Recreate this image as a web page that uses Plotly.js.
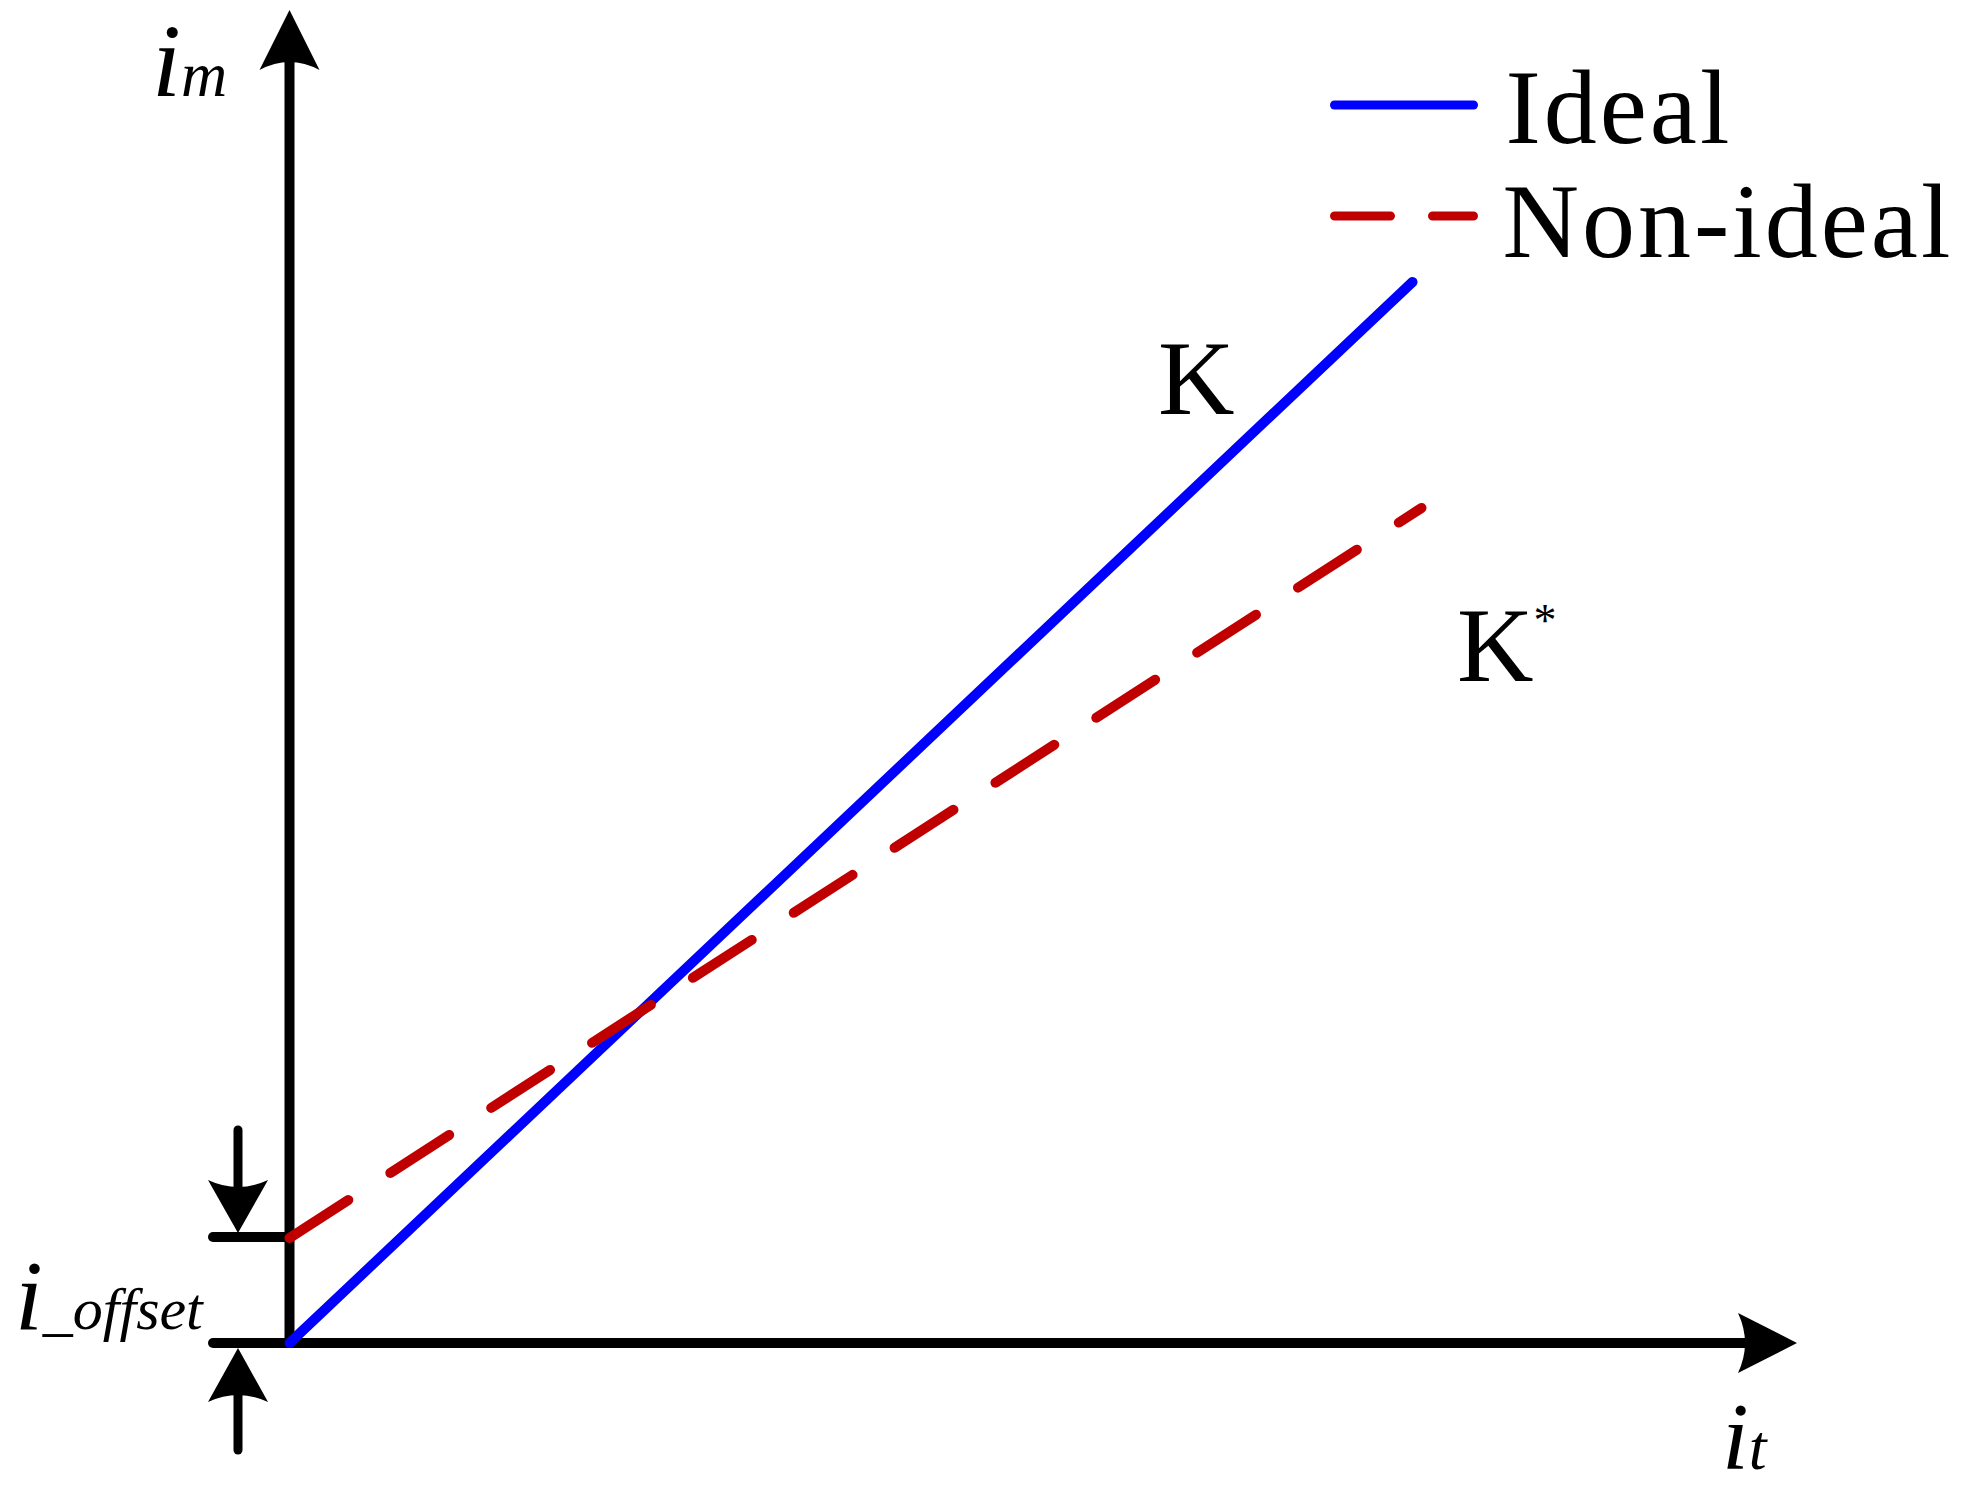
<!DOCTYPE html>
<html>
<head>
<meta charset="utf-8">
<script src="https://cdn.plot.ly/plotly-3.0.1.min.js"></script>
<style>
  body { margin: 0; background: #fff; }
  .shapelayer path, .scatterlayer .js-line { stroke-linecap: round !important; }
  .annotation[data-index="0"] text, .annotation[data-index="1"] text { letter-spacing: 3px; }
</style>
</head>
<body>
<div id="plotArea" style="width:1971px;height:1493px;"></div>
<script>
// measured line data (i_t on x, i_m on y)
var itIdeal = [0, 10.0];
var imIdeal = [0, 10.0];
var itNonIdeal = [0, 10.08];
var imNonIdeal = [0.99, 7.87];

var seriesNames = ["Ideal", "Non-ideal"];
var slopeLabels = ["K", "K<sup><span style='font-size:46px'>*</span></sup>"];

// pixel -> data helpers (origin of the drawing at 289.5, 1343)
var W = 1971, H = 1493, X0 = 289.5, Y0 = 1343, UX = 112.3, UY = 106.1;
function xv(p) { return (p - X0) / UX; }
function yv(p) { return (Y0 - p) / UY; }

var FONT = "Liberation Serif";
var blue = "#0000ff", red = "#c00000";

var traces = [
    {x: itIdeal, y: imIdeal, type: "scatter", mode: "lines", name: seriesNames[0],
     line: {color: blue, width: 10}, hoverinfo: "skip", showlegend: false},
    {x: itNonIdeal, y: imNonIdeal, type: "scatter", mode: "lines", name: seriesNames[1],
     line: {color: red, width: 10, dash: "70px,50px"}, hoverinfo: "skip", showlegend: false}
];

function seg(px0, py0, px1, py1, opts) {
    opts = opts || {};
    return {type: "line", xref: "x", yref: "y",
            x0: xv(px0), y0: yv(py0), x1: xv(px1), y1: yv(py1),
            layer: opts.layer || "above",
            line: {color: opts.color || "black", width: opts.width || 10, dash: opts.dash || "solid"}};
}
function head(px, py, path) {
    return {type: "path", xref: "x", yref: "y", xsizemode: "pixel", ysizemode: "pixel",
            xanchor: xv(px), yanchor: yv(py), path: path,
            fillcolor: "black", line: {width: 0}};
}

var shapes = [
    // axes
    seg(289.5, 1343, 289.5, 45, {layer: "below"}),
    seg(213, 1343, 1750, 1343, {layer: "below"}),
    // offset tick
    seg(213, 1237, 289.5, 1237, {layer: "below"}),
    // offset arrows shafts
    seg(238, 1130, 238, 1190, {width: 9}),
    seg(238, 1395, 238, 1450, {width: 9}),
    // arrow heads
    head(289.5, 10, "M0,0 L-30,-60 Q0,-44 30,-60 Z"),
    head(1797, 1343, "M0,0 L-59,30 Q-45,0 -59,-30 Z"),
    head(238, 1233, "M0,0 L-30,53 Q0,39 30,53 Z"),
    head(238, 1348, "M0,0 L-30,-54 Q0,-40 30,-54 Z"),
    // legend samples
    seg(1334.5, 105, 1473.5, 105, {color: blue, width: 9}),
    seg(1334.5, 216, 1473.5, 216, {color: red, width: 9, dash: "56px,42px"})
];

function label(text, px, baseline, size) {
    return {text: text, xref: "x", yref: "y", x: xv(px), y: yv(baseline - 0.3375 * size),
            xanchor: "left", yanchor: "middle", showarrow: false, borderpad: 0,
            font: {family: FONT, size: size, color: "black"}};
}

var annotations = [
    label(seriesNames[0], 1512, 143, 106),
    label(seriesNames[1], 1515, 257, 106),
    label(slopeLabels[0], 1157, 414, 106),
    label(slopeLabels[1], 1456, 681, 106),
    label("<i>i</i><i><span style='font-size:64px'>m</span></i>", 151, 96, 104),
    label("<i>i</i><i><span style='font-size:60px'>_offset</span></i>", 14, 1329, 100),
    label("<i>i</i><i><span style='font-size:64px'>t</span></i>", 1721, 1469, 96)
];

var layout = {
    width: W, height: H,
    margin: {l: 0, r: 0, t: 0, b: 0, pad: 0},
    paper_bgcolor: "white", plot_bgcolor: "white",
    showlegend: false,
    xaxis: {range: [xv(0), xv(W)], visible: false, fixedrange: true},
    yaxis: {range: [yv(H), yv(0)], visible: false, fixedrange: true},
    shapes: shapes,
    annotations: annotations
};

Plotly.newPlot("plotArea", traces, layout, {staticPlot: true});
</script>
</body>
</html>
